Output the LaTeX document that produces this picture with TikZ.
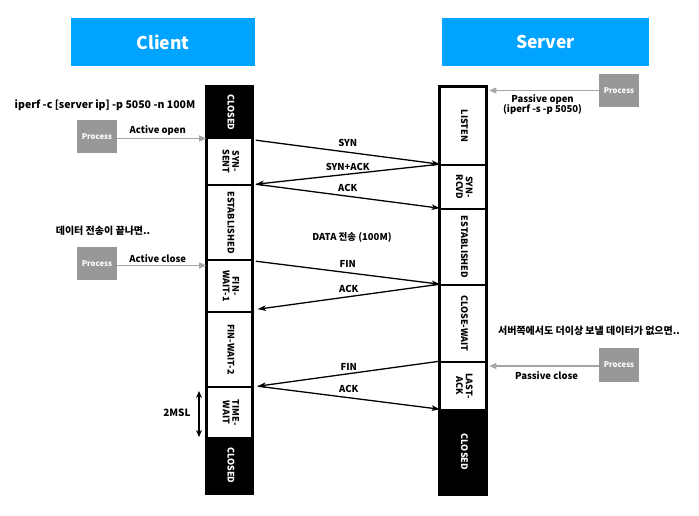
\documentclass[tikz,border=0pt]{standalone}
\usepackage{fontspec}
\usepackage{graphicx}
\setmainfont{Noto Sans CJK KR}[BoldFont={Noto Sans CJK KR Black}]
\usetikzlibrary{arrows.meta}
\definecolor{hdrblue}{RGB}{0,163,255}
\definecolor{procgray}{RGB}{152,152,152}
\definecolor{arrgray}{RGB}{165,165,165}
\newcommand{\vtxt}[1]{\rotatebox{-90}{\begin{tabular}{@{}c@{}}#1\end{tabular}}}
\tikzset{
  hdr/.style={fill=hdrblue, text=white, minimum height=48pt, inner sep=0pt,
    font=\fontsize{17.5}{20}\selectfont\bfseries},
  stbox/.style={draw=black, line width=1.6pt, fill=white, minimum width=45pt,
    inner sep=0pt, font=\fontsize{9}{9.5}\selectfont\bfseries},
  stdark/.style={stbox, fill=black, text=white},
  proc/.style={fill=procgray, text=white, minimum width=40pt, minimum height=33pt,
    inner sep=0pt, font=\fontsize{7.8}{8}\selectfont\bfseries},
  msg/.style={draw=black, line width=1.3pt, -{Stealth[length=8pt,width=5.5pt,inset=2pt]}},
  procarrow/.style={draw=arrgray, line width=1.3pt, -{Triangle[length=7pt,width=6pt]}},
  lbl/.style={font=\fontsize{9.5}{11}\selectfont\bfseries, inner sep=1pt},
  note/.style={font=\fontsize{10}{11}\selectfont\bfseries, inner sep=0pt}
}
\begin{document}
\begin{tikzpicture}[x=1pt, y=-1pt]
\useasboundingbox (0,0) rectangle (699,515);

% headers
\node[hdr, minimum width=184pt] (client) at (163,42) {Client};
\node[hdr, minimum width=207pt] (server) at (545.5,42) {Server};

% client states
\node[stdark, minimum height=51pt] (c1) at (229.5,112.5) {\vtxt{CLOSED}};
\node[stbox, minimum height=47pt] (c2) at (229.5,161.5) {\vtxt{SYN-\\SENT}};
\node[stbox, minimum height=75pt] (c3) at (229.5,222.5) {\vtxt{ESTABLISHED}};
\node[stbox, minimum height=52pt] (c4) at (229.5,286) {\vtxt{FIN-\\WAIT-1}};
\node[stbox, minimum height=75pt] (c5) at (229.5,349.5) {\vtxt{FIN-WAIT-2}};
\node[stbox, minimum height=51pt] (c6) at (229.5,412.5) {\vtxt{TIME-\\WAIT}};
\node[stdark, minimum height=55pt] (c7) at (229.5,465.5) {\vtxt{CLOSED}};
\draw[line width=3pt] (c1.north west) rectangle (c7.south east);

% server states
\node[stbox, minimum height=78pt] (s1) at (463,126) {\vtxt{LISTEN}};
\node[stbox, minimum height=44pt] (s2) at (463,187) {\vtxt{SYN-\\RCVD}};
\node[stbox, minimum height=76pt] (s3) at (463,247) {\vtxt{ESTABLISHED}};
\node[stbox, minimum height=77pt] (s4) at (463,323.5) {\vtxt{CLOSE-WAIT}};
\node[stbox, minimum height=48pt] (s5) at (463,386) {\vtxt{LAST-\\ACK}};
\node[stdark, minimum height=84pt] (s6) at (463,452) {\vtxt{CLOSED}};
\draw[line width=3pt] (s1.north west) rectangle (s6.south east);

% handshake
\draw[msg] ([shift={(3,3)}]c2.north east) -- (s2.north west)
  node[lbl, midway, above=4pt] {SYN};
\draw[msg] (s2.north west) -- ([xshift=3pt]c3.north east)
  node[lbl, midway, above=2pt] {SYN+ACK};
\draw[msg] ([xshift=3pt]c3.north east) -- (s3.north west)
  node[lbl, midway, above=3pt] {ACK};

\node[lbl] (data) at (352,237) {DATA 전송 (100M)};

% teardown
\draw[msg] ([shift={(3,2)}]c4.north east) -- (s4.north west)
  node[lbl, midway, above=4pt] {FIN};
\draw[msg] (s4.north west) -- ([shift={(5,-2)}]c5.north east)
  node[lbl, midway, above=2pt] {ACK};
\draw[msg] (s5.north west) -- ([xshift=5pt]c6.north east)
  node[lbl, midway, above=2pt] {FIN};
\draw[msg] ([xshift=5pt]c6.north east) -- (s6.north west)
  node[lbl, midway, above=3pt] {ACK};

% processes
\node[proc] (p1) at (97,136.5) {Process};
\node[proc] (p2) at (97,263.5) {Process};
\node[proc] (p3) at (619,90.5) {Process};
\node[proc, minimum height=34pt] (p4) at (619,365) {Process};

\draw[procarrow] ([yshift=-2pt]p1.east) -- ([yshift=-2pt]p1.east -| c1.west)
  node[lbl, midway, above=1pt, xshift=-4pt] {Active open};
\draw[procarrow] ([yshift=-2pt]p2.east) -- ([yshift=-2pt]p2.east -| c4.west)
  node[lbl, midway, above=1pt, xshift=-4pt] {Active close};
\draw[procarrow, shorten >=3pt] (p3.west) -- (p3.west -| s1.east)
  node[lbl, midway, below=2pt, align=center, font=\fontsize{9.5}{10.5}\selectfont\bfseries] {Passive open\\(iperf -s -p 5050)};
\draw[procarrow, shorten >=3pt] ([yshift=-1pt]p4.west) -- ([yshift=-1pt]p4.west -| s5.east)
  node[lbl, midway, below=4pt, xshift=4pt] {Passive close};

% notes
\node[note, font=\fontsize{10.5}{11}\selectfont\bfseries] (cmd) at (105,105) {iperf -c [server ip] -p 5050 -n 100M};
\node[note] (cnote) at (103,231) {데이터 전송이 끝나면..};
\node[note] (snote) at (589,331) {서버쪽에서도 더이상 보낼 데이터가 없으면..};

% 2MSL timer
\coordinate (m1) at (199,391);
\coordinate (m2) at (199,437);
\draw[line width=1.3pt, {Stealth[length=7pt,width=6pt]}-{Stealth[length=7pt,width=6pt]}] (m1) -- (m2);
\node[note] (msl) at (177,413) {2MSL};
\end{tikzpicture}
\end{document}
